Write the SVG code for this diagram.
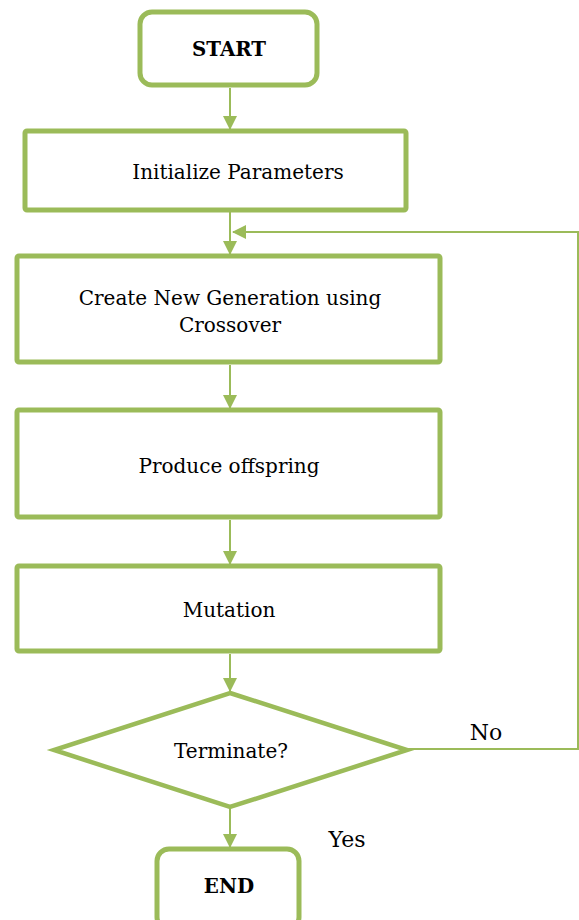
<svg xmlns="http://www.w3.org/2000/svg" width="579" height="920" viewBox="0 0 579 920">
<defs>
<marker id="ah" markerWidth="14" markerHeight="14" refX="13" refY="7" orient="auto" markerUnits="userSpaceOnUse">
<path d="M0,0 L14,7 L0,14 Z" fill="#9BBB59"/>
</marker>
<style>
.box{fill:#fff;stroke:#9BBB59;stroke-width:5}
.dia{fill:#fff;stroke:#9BBB59;stroke-width:4.5;stroke-linejoin:miter}
.c{fill:none;stroke:#9BBB59;stroke-width:2}
text{font-family:"DejaVu Serif","Liberation Serif",serif;font-size:20px;fill:#000;text-anchor:middle}
.b{font-weight:bold;font-size:19.8px}
.l{font-size:22px}
</style>
</defs>
<rect width="579" height="920" fill="#fff"/>
<g id="connectors">
<line class="c" x1="230" y1="88" x2="230" y2="129" marker-end="url(#ah)"/>
<line class="c" x1="230" y1="212" x2="230" y2="254" marker-end="url(#ah)"/>
<polyline class="c" points="408,749 578,749 578,232 233,232" marker-end="url(#ah)"/>
<line class="c" x1="230" y1="365" x2="230" y2="408" marker-end="url(#ah)"/>
<line class="c" x1="230" y1="520" x2="230" y2="564" marker-end="url(#ah)"/>
<line class="c" x1="230" y1="654" x2="230" y2="691" marker-end="url(#ah)"/>
<line class="c" x1="230" y1="808" x2="230" y2="847" marker-end="url(#ah)"/>
<text class="l" x="486" y="740">No</text>
<text class="l" x="347" y="847">Yes</text>
</g>
<g id="start">
<rect class="box" x="140" y="12" width="177" height="73" rx="12"/>
<text class="b" x="229" y="56">START</text>
</g>
<g id="init">
<rect class="box" x="25" y="131" width="381" height="79" rx="2"/>
<text x="238" y="179">Initialize Parameters</text>
</g>
<g id="create">
<rect class="box" x="17" y="256" width="423" height="106" rx="2"/>
<text x="230" y="305">Create New Generation using</text>
<text x="230" y="332">Crossover</text>
</g>
<g id="produce">
<rect class="box" x="17" y="410" width="423" height="107" rx="2"/>
<text x="229" y="473">Produce offspring</text>
</g>
<g id="mutation">
<rect class="box" x="17" y="566" width="423" height="85" rx="2"/>
<text x="229" y="617">Mutation</text>
</g>
<g id="terminate">
<polygon class="dia" points="230,693 407,750 230,807 54,750"/>
<text x="231" y="758">Terminate?</text>
</g>
<g id="end">
<rect class="box" x="157" y="849" width="142" height="80" rx="12"/>
<text class="b" x="229" y="893">END</text>
</g>
</svg>
